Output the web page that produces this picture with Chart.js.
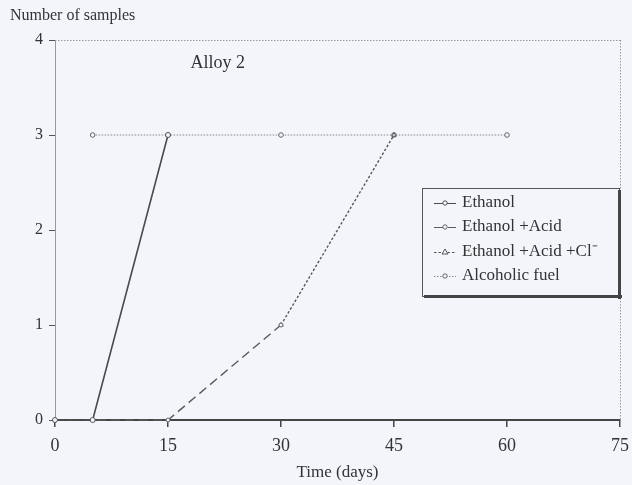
<!DOCTYPE html>
<html>
<head>
<meta charset="utf-8">
<script src="https://cdn.jsdelivr.net/npm/chart.js@4/dist/chart.umd.min.js"></script>
<style>
  html, body { margin: 0; padding: 0; background: #f3f5fb; }
  #wrap { width: 632px; height: 485px; position: relative; }
</style>
</head>
<body>
<div id="wrap"><canvas id="c" width="632" height="485"></canvas></div>
<script>
// ---- data ----
const seriesNames = ['Ethanol', 'Ethanol +Acid', 'Ethanol +Acid +Cl\u207B', 'Alcoholic fuel'];
const ethanolDays = [0, 5, 15];
const ethanolSamples = [0, 0, 3];
const ethanolAcidDays = [0, 15, 30];
const ethanolAcidSamples = [0, 0, 1];
const ethanolAcidClDays = [30, 45];
const ethanolAcidClSamples = [1, 3];
const fuelDays = [5, 15, 30, 45, 60];
const fuelSamples = [3, 3, 3, 3, 3];
const xTicks = [0, 15, 30, 45, 60, 75];
const yTicks = [0, 1, 2, 3, 4];
const plotTitle = 'Alloy 2';
const yTitle = 'Number of samples';
const xTitle = 'Time (days)';

const pts = (xs, ys) => xs.map((x, i) => ({ x: x, y: ys[i] }));
const SERIF = "'Liberation Serif', 'Times New Roman', serif";

const datasets = [
  { label: seriesNames[0], data: pts(ethanolDays, ethanolSamples), borderColor: '#4a4a4a', borderWidth: 1.6,
    borderDash: [], pointStyle: 'circle', pointRadius: 2.5, pointBorderColor: '#555', pointBackgroundColor: '#f3f5fb', pointBorderWidth: 1 },
  { label: seriesNames[1], data: pts(ethanolAcidDays, ethanolAcidSamples), borderColor: '#5a5a5a', borderWidth: 1.4,
    borderDash: [9, 5], pointStyle: 'circle', pointRadius: 2, pointBorderColor: '#666', pointBackgroundColor: '#f3f5fb', pointBorderWidth: 1 },
  { label: seriesNames[2], data: pts(ethanolAcidClDays, ethanolAcidClSamples), borderColor: '#555', borderWidth: 1.4,
    borderDash: [2.5, 2], pointStyle: 'triangle', pointRadius: 2.5, pointBorderColor: '#555', pointBackgroundColor: '#f3f5fb', pointBorderWidth: 1 },
  { label: seriesNames[3], data: pts(fuelDays, fuelSamples), borderColor: '#8a8a8a', borderWidth: 1.2,
    borderDash: [1.5, 1.5], pointStyle: 'circle', pointRadius: 2.3, pointBorderColor: '#666', pointBackgroundColor: '#f3f5fb', pointBorderWidth: 1 }
];
datasets.forEach(d => { d.fill = false; d.tension = 0; d.clip = false; d.showLine = true; });

const decor = {
  id: 'decor',
  beforeDatasetsDraw(chart) {
    const { ctx, chartArea: a } = chart;
    ctx.save();
    ctx.strokeStyle = '#9a9a9a';
    ctx.lineWidth = 1;
    ctx.setLineDash([1.5, 1.5]);
    ctx.beginPath();
    ctx.moveTo(a.left, a.top + 0.5); ctx.lineTo(a.right, a.top + 0.5);
    ctx.moveTo(a.right + 0.5, a.top); ctx.lineTo(a.right + 0.5, a.bottom);
    ctx.stroke();
    ctx.restore();
  },
  afterDraw(chart) {
    const { ctx } = chart;
    const xs = chart.scales.x, ys = chart.scales.y;
    ctx.save();
    // plot label
    ctx.fillStyle = '#333';
    ctx.font = '18px ' + SERIF;
    ctx.textBaseline = 'middle';
    ctx.textAlign = 'left';
    ctx.fillText(plotTitle, xs.getPixelForValue(18), ys.getPixelForValue(3.75));
    // y title
    ctx.font = '16px ' + SERIF;
    ctx.fillText(yTitle, 10, 16);

    // legend box
    const L = 422, T = 188, W = 197, H = 108;
    ctx.fillStyle = '#f3f5fb';
    ctx.fillRect(L, T, W, H);
    ctx.strokeStyle = '#555';
    ctx.lineWidth = 1;
    ctx.setLineDash([]);
    ctx.strokeRect(L + 0.5, T + 0.5, W, H);
    ctx.fillStyle = '#444';
    ctx.fillRect(L + W - 1, T + 2, 3, H + 1);
    ctx.fillRect(L + 2, T + H - 1, W + 1, 3);

    const rowY = [203, 227, 252, 276];
    chart.data.datasets.forEach((d, i) => {
      const y = rowY[i];
      ctx.strokeStyle = d.borderColor;
      ctx.lineWidth = 1;
      ctx.setLineDash(d.borderDash || []);
      ctx.beginPath();
      ctx.moveTo(434, y + 0.5); ctx.lineTo(456, y + 0.5);
      ctx.stroke();
      ctx.setLineDash([]);
      ctx.fillStyle = d.pointBackgroundColor;
      ctx.strokeStyle = d.pointBorderColor;
      ctx.beginPath();
      if (d.pointStyle === 'triangle') {
        ctx.moveTo(445, y - 3); ctx.lineTo(448, y + 2); ctx.lineTo(442, y + 2); ctx.closePath();
      } else {
        ctx.arc(445, y, 2.2, 0, Math.PI * 2);
      }
      ctx.fill(); ctx.stroke();
      ctx.fillStyle = '#333';
      ctx.font = '17px ' + SERIF;
      ctx.textBaseline = 'middle';
      ctx.fillText(d.label, 462, y);
    });
    ctx.restore();
  }
};

new Chart(document.getElementById('c'), {
  type: 'line',
  data: { datasets: datasets },
  plugins: [decor],
  options: {
    responsive: false,
    animation: false,
    devicePixelRatio: 1,
    layout: { padding: { top: 40, right: 0, left: 0, bottom: 0 } },
    plugins: { legend: { display: false }, tooltip: { enabled: false }, title: { display: false } },
    scales: {
      x: {
        type: 'linear', min: 0, max: 75,
        afterBuildTicks: s => { s.ticks = xTicks.map(v => ({ value: v })); },
        afterFit: s => { s.height = 65; s.paddingRight = 12; },
        grid: { drawOnChartArea: false, drawTicks: true, tickLength: 7, color: '#444', lineWidth: 1.5 },
        border: { display: true, color: '#444', width: 2 },
        ticks: { color: '#333', font: { family: SERIF, size: 18 }, padding: 8, maxRotation: 0 },
        title: { display: true, text: xTitle, color: '#333', font: { family: SERIF, size: 17 }, padding: { top: 0, bottom: 2 } }
      },
      y: {
        type: 'linear', min: 0, max: 4,
        afterBuildTicks: s => { s.ticks = yTicks.map(v => ({ value: v })); },
        afterFit: s => { s.width = 55; },
        grid: { drawOnChartArea: false, drawTicks: true, tickLength: 6, color: '#555', lineWidth: 1 },
        border: { display: true, color: '#999', width: 1, dash: [1.5, 1.5] },
        ticks: { color: '#333', font: { family: SERIF, size: 16 }, padding: 6 }
      }
    }
  }
});
</script>
</body>
</html>
